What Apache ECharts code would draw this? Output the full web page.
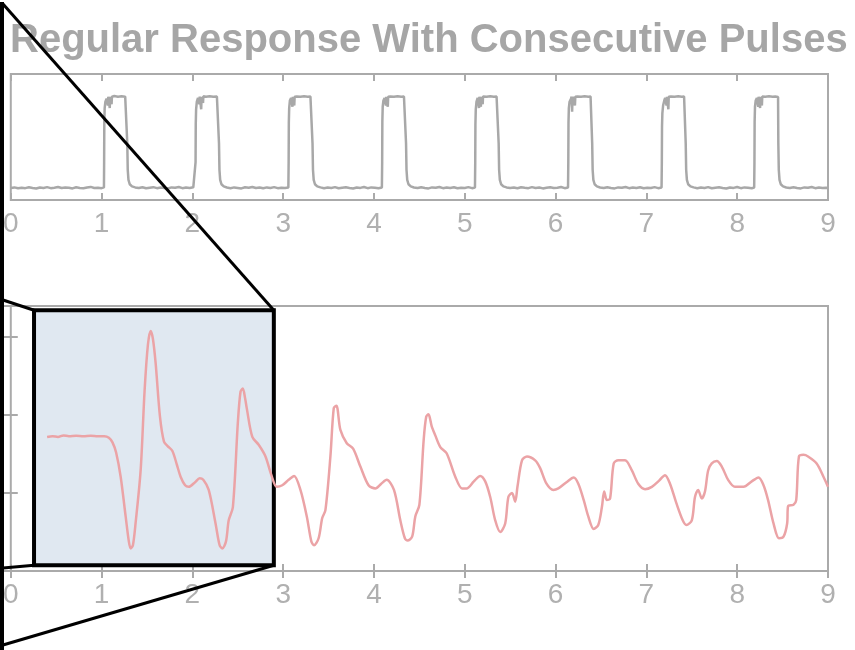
<!DOCTYPE html>
<html>
<head>
<meta charset="utf-8">
<script src="https://cdn.jsdelivr.net/npm/echarts@6/dist/echarts.min.js"></script>
<style>html,body{margin:0;padding:0;background:#fff}#c{width:855px;height:650px}</style>
</head>
<body>
<div id="c"></div>
<script>
// ---------- data ----------
const titleText = 'Regular Response With Consecutive Pulses';
const xTicks = [0, 1, 2, 3, 4, 5, 6, 7, 8, 9];

// top panel: stimulus pulse train [time, level]
const pulseTrace = [
 [0.00,0.096],[0.04,0.100],[0.08,0.093],[0.12,0.098],[0.16,0.094],[0.20,0.101],[0.24,0.095],[0.28,0.091],[0.32,0.099],[0.36,0.096],[0.40,0.102],[0.44,0.094],[0.48,0.098],[0.52,0.103],[0.56,0.095],[0.60,0.100],[0.64,0.097],[0.68,0.092],[0.72,0.101],[0.76,0.096],[0.80,0.093],[0.84,0.099],[0.88,0.104],[0.92,0.095],[0.96,0.098],[1.00,0.094],[1.026,0.100],
 [1.028,0.30],[1.030,0.62],[1.034,0.73],[1.042,0.78],[1.055,0.805],[1.065,0.82],[1.070,0.75],[1.074,0.82],[1.085,0.815],[1.090,0.73],[1.094,0.82],[1.105,0.82],[1.110,0.76],[1.114,0.82],[1.140,0.825],[1.180,0.82],[1.220,0.823],[1.260,0.82],[1.280,0.818],
 [1.283,0.45],[1.288,0.24],[1.296,0.16],[1.310,0.125],[1.335,0.108],[1.37,0.100],[1.41,0.095],[1.45,0.101],[1.49,0.093],[1.53,0.098],[1.57,0.102],[1.61,0.094],[1.65,0.099],[1.69,0.096],[1.73,0.091],[1.77,0.100],[1.81,0.097],[1.85,0.103],[1.89,0.094],[1.93,0.099],[1.97,0.095],[2.01,0.101],[2.032,0.097],
 [2.035,0.30],[2.037,0.60],[2.041,0.72],[2.049,0.78],[2.062,0.81],[2.072,0.82],[2.077,0.76],[2.081,0.82],[2.092,0.818],[2.097,0.72],[2.101,0.82],[2.112,0.82],[2.117,0.77],[2.121,0.823],[2.15,0.82],[2.19,0.824],[2.23,0.82],[2.27,0.821],[2.29,0.818],
 [2.293,0.45],[2.298,0.24],[2.306,0.16],[2.320,0.125],[2.345,0.108],[2.38,0.099],[2.42,0.094],[2.46,0.100],[2.50,0.096],[2.54,0.092],[2.58,0.101],[2.62,0.097],[2.66,0.103],[2.70,0.095],[2.74,0.099],[2.78,0.093],[2.82,0.100],[2.86,0.096],[2.90,0.102],[2.94,0.094],[2.98,0.098],[3.02,0.095],[3.057,0.100],
 [3.060,0.30],[3.062,0.61],[3.066,0.73],[3.074,0.79],[3.087,0.81],[3.097,0.82],[3.102,0.74],[3.106,0.82],[3.117,0.817],[3.122,0.75],[3.126,0.82],[3.150,0.822],[3.19,0.82],[3.23,0.823],[3.27,0.82],[3.30,0.821],[3.320,0.818],
 [3.323,0.45],[3.328,0.24],[3.336,0.16],[3.350,0.125],[3.375,0.108],[3.41,0.100],[3.45,0.094],[3.49,0.099],[3.53,0.096],[3.57,0.102],[3.61,0.093],[3.65,0.098],[3.69,0.101],[3.73,0.095],[3.77,0.091],[3.81,0.099],[3.85,0.096],[3.89,0.103],[3.93,0.094],[3.97,0.100],[4.01,0.097],[4.05,0.093],[4.087,0.099],
 [4.090,0.30],[4.092,0.62],[4.096,0.74],[4.104,0.79],[4.117,0.81],[4.127,0.82],[4.132,0.75],[4.136,0.82],[4.147,0.819],[4.152,0.74],[4.156,0.82],[4.180,0.822],[4.22,0.82],[4.26,0.824],[4.30,0.82],[4.33,0.821],[4.350,0.818],
 [4.353,0.45],[4.358,0.24],[4.366,0.16],[4.380,0.125],[4.405,0.108],[4.44,0.099],[4.48,0.095],[4.52,0.101],[4.56,0.096],[4.60,0.092],[4.64,0.100],[4.68,0.097],[4.72,0.103],[4.76,0.094],[4.80,0.099],[4.84,0.095],[4.88,0.101],[4.92,0.093],[4.96,0.098],[5.00,0.096],[5.04,0.102],[5.08,0.094],[5.112,0.099],
 [5.115,0.30],[5.117,0.60],[5.121,0.72],[5.129,0.78],[5.142,0.81],[5.152,0.82],[5.157,0.73],[5.161,0.82],[5.172,0.818],[5.177,0.74],[5.181,0.82],[5.192,0.82],[5.197,0.76],[5.201,0.822],[5.24,0.82],[5.28,0.823],[5.32,0.82],[5.35,0.821],[5.370,0.818],
 [5.373,0.45],[5.378,0.24],[5.386,0.16],[5.400,0.125],[5.425,0.108],[5.46,0.100],[5.50,0.095],[5.54,0.099],[5.58,0.093],[5.62,0.101],[5.66,0.097],[5.70,0.094],[5.74,0.102],[5.78,0.096],[5.82,0.099],[5.86,0.092],[5.90,0.098],[5.94,0.101],[5.98,0.095],[6.02,0.097],[6.06,0.103],[6.10,0.094],[6.137,0.099],
 [6.140,0.30],[6.142,0.61],[6.146,0.73],[6.154,0.78],[6.167,0.80],[6.177,0.82],[6.182,0.70],[6.186,0.80],[6.192,0.78],[6.197,0.82],[6.208,0.819],[6.213,0.75],[6.217,0.82],[6.24,0.822],[6.28,0.82],[6.32,0.823],[6.36,0.82],[6.385,0.821],[6.400,0.818],
 [6.403,0.45],[6.408,0.24],[6.416,0.16],[6.430,0.125],[6.455,0.108],[6.49,0.099],[6.53,0.095],[6.57,0.101],[6.61,0.096],[6.65,0.092],[6.69,0.100],[6.73,0.097],[6.77,0.103],[6.81,0.094],[6.85,0.099],[6.89,0.095],[6.93,0.101],[6.97,0.093],[7.01,0.098],[7.05,0.096],[7.09,0.102],[7.13,0.094],[7.167,0.099],
 [7.170,0.30],[7.172,0.58],[7.176,0.69],[7.184,0.75],[7.197,0.79],[7.207,0.81],[7.217,0.82],[7.222,0.75],[7.226,0.82],[7.237,0.819],[7.242,0.72],[7.246,0.82],[7.27,0.822],[7.31,0.82],[7.35,0.823],[7.39,0.82],[7.415,0.821],[7.430,0.818],
 [7.433,0.45],[7.438,0.24],[7.446,0.16],[7.460,0.125],[7.485,0.108],[7.52,0.100],[7.56,0.094],[7.60,0.099],[7.64,0.096],[7.68,0.102],[7.72,0.093],[7.76,0.098],[7.80,0.101],[7.84,0.095],[7.88,0.091],[7.92,0.099],[7.96,0.096],[8.00,0.103],[8.04,0.094],[8.08,0.100],[8.12,0.097],[8.16,0.093],[8.187,0.099],
 [8.190,0.30],[8.192,0.62],[8.196,0.74],[8.204,0.79],[8.217,0.81],[8.227,0.82],[8.232,0.74],[8.236,0.82],[8.247,0.818],[8.252,0.73],[8.256,0.82],[8.267,0.82],[8.272,0.75],[8.276,0.822],[8.31,0.82],[8.35,0.823],[8.39,0.82],[8.42,0.821],[8.450,0.818],
 [8.453,0.45],[8.458,0.24],[8.466,0.16],[8.480,0.125],[8.505,0.108],[8.54,0.099],[8.58,0.095],[8.62,0.101],[8.66,0.096],[8.70,0.092],[8.74,0.100],[8.78,0.097],[8.82,0.103],[8.86,0.094],[8.90,0.099],[8.94,0.095],[8.98,0.098],[9.00,0.096]
];

// bottom panel: response trace [time, value]
const responseTrace = [
 [0.40,1.72],[0.46,1.73],[0.52,1.72],[0.58,1.74],[0.64,1.73],[0.72,1.735],[0.80,1.73],[0.88,1.735],[0.96,1.73],[1.03,1.73],[1.08,1.71],[1.12,1.65],[1.16,1.52],[1.21,1.21],[1.265,0.70],[1.30,0.38],[1.32,0.29],[1.345,0.33],[1.375,0.62],[1.43,1.29],[1.474,2.32],[1.51,2.90],[1.54,3.08],[1.565,2.98],[1.595,2.67],[1.643,1.98],[1.687,1.66],[1.73,1.60],[1.78,1.54],[1.83,1.36],[1.87,1.21],[1.92,1.10],[1.96,1.08],[2.03,1.14],[2.08,1.19],[2.12,1.17],[2.18,1.04],[2.255,0.61],[2.30,0.33],[2.33,0.29],[2.37,0.38],[2.40,0.65],[2.446,0.82],[2.50,1.89],[2.53,2.30],[2.555,2.34],[2.58,2.22],[2.60,2.08],[2.66,1.72],[2.73,1.62],[2.805,1.47],[2.87,1.23],[2.93,1.08],[2.99,1.10],[3.06,1.17],[3.12,1.22],[3.19,1.04],[3.26,0.70],[3.31,0.38],[3.34,0.33],[3.39,0.42],[3.43,0.68],[3.465,0.78],[3.52,1.47],[3.557,2.09],[3.586,2.12],[3.63,1.81],[3.70,1.64],[3.77,1.57],[3.85,1.34],[3.94,1.10],[4.015,1.06],[4.08,1.12],[4.14,1.17],[4.22,1.04],[4.29,0.65],[4.34,0.42],[4.37,0.39],[4.42,0.44],[4.455,0.70],[4.50,0.85],[4.547,1.68],[4.575,1.98],[4.60,2.01],[4.635,1.86],[4.675,1.74],[4.73,1.59],[4.80,1.51],[4.895,1.21],[4.97,1.06],[5.02,1.06],[5.10,1.15],[5.17,1.22],[5.225,1.15],[5.28,0.95],[5.335,0.65],[5.39,0.50],[5.445,0.61],[5.48,0.95],[5.52,1.00],[5.555,0.89],[5.58,1.08],[5.63,1.42],[5.685,1.47],[5.775,1.42],[5.83,1.32],[5.90,1.12],[5.975,1.04],[6.03,1.06],[6.12,1.14],[6.20,1.20],[6.25,1.12],[6.31,0.91],[6.36,0.70],[6.42,0.54],[6.47,0.59],[6.51,0.82],[6.535,1.02],[6.565,0.91],[6.60,0.93],[6.64,1.38],[6.69,1.42],[6.765,1.42],[6.84,1.29],[6.91,1.12],[6.985,1.05],[7.06,1.08],[7.14,1.16],[7.205,1.23],[7.26,1.12],[7.33,0.87],[7.40,0.65],[7.44,0.59],[7.50,0.65],[7.535,0.95],[7.57,1.04],[7.61,0.93],[7.645,1.02],[7.68,1.29],[7.72,1.38],[7.775,1.41],[7.83,1.34],[7.90,1.17],[7.975,1.08],[8.07,1.08],[8.16,1.15],[8.235,1.20],[8.29,1.10],[8.34,0.91],[8.40,0.61],[8.46,0.42],[8.51,0.44],[8.55,0.61],[8.56,0.83],[8.62,0.85],[8.65,0.91],[8.68,1.47],[8.73,1.49],[8.78,1.47],[8.875,1.38],[8.95,1.21],[9.00,1.08]
];

// zoomed window on the bottom panel (data coordinates)
const zoomX = [0.256, 2.897];
const zoomY = [0.073, 3.346];

// ---------- chart ----------
const grey = '#aaaaaa';
const labelStyle = {color: '#b0b0b0', fontSize: 28, fontFamily: 'Liberation Sans, Arial, sans-serif', fontWeight: 'normal', margin: 10};
function xAx(grid, pos, labels) {
  return {type: 'value', gridIndex: grid, position: pos, min: 0, max: 9, interval: 1,
    axisLine: {show: false}, splitLine: {show: false},
    axisTick: {show: true, inside: true, length: 7, lineStyle: {color: grey, width: 2}},
    axisLabel: labels ? Object.assign({show: true}, labelStyle) : {show: false}};
}
function yAx(grid, pos, ticks, min, max) {
  return {type: 'value', gridIndex: grid, position: pos, min: min, max: max, interval: 1,
    axisLine: {show: false}, splitLine: {show: false},
    axisTick: {show: ticks, inside: true, length: 7, lineStyle: {color: grey, width: 2}},
    axisLabel: {show: false}};
}

const chart = echarts.init(document.getElementById('c'), null, {renderer: 'canvas'});
chart.setOption({
  animation: false,
  backgroundColor: '#ffffff',
  title: {text: titleText, left: 5, top: 16,
    textStyle: {fontSize: 40, fontWeight: 'bold', color: '#a6a6a6', fontFamily: 'Liberation Sans, Arial, sans-serif'}},
  grid: [
    {left: 10, right: 27, top: 74, height: 126, show: true, borderColor: grey, borderWidth: 2},
    {left: 10, right: 27, top: 306, height: 265, show: true, borderColor: grey, borderWidth: 2}
  ],
  xAxis: [xAx(0, 'bottom', true), xAx(0, 'top', false), xAx(1, 'bottom', true), xAx(1, 'top', false)],
  yAxis: [yAx(0, 'left', false, 0, 1), yAx(1, 'left', true, 0, 3.4), yAx(1, 'right', true, 0, 3.4)],
  series: [
    {type: 'line', xAxisIndex: 0, yAxisIndex: 0, data: pulseTrace, showSymbol: false,
      lineStyle: {color: '#a8a8a8', width: 2.5}},
    {type: 'line', xAxisIndex: 2, yAxisIndex: 1, data: responseTrace, showSymbol: false, smooth: 0.3,
      lineStyle: {color: '#eba3a6', width: 2.5},
      markArea: {silent: true,
        itemStyle: {color: '#e0e8f1', borderColor: '#000000', borderWidth: 4},
        data: [[{coord: [zoomX[0], zoomY[1]]}, {coord: [zoomX[1], zoomY[0]]}]]}}
  ]
});

// zoom connector lines
const tl = chart.convertToPixel({seriesIndex: 1}, [zoomX[0], zoomY[1]]);
const tr = chart.convertToPixel({seriesIndex: 1}, [zoomX[1], zoomY[1]]);
const bl = chart.convertToPixel({seriesIndex: 1}, [zoomX[0], zoomY[0]]);
const br = chart.convertToPixel({seriesIndex: 1}, [zoomX[1], zoomY[0]]);
const ls = {stroke: '#000', lineWidth: 3};
function seg(x1, y1, x2, y2) { return {type: 'line', z: 100, shape: {x1, y1, x2, y2}, style: ls}; }
chart.setOption({graphic: [
  {type: 'line', z: 100, shape: {x1: 2, y1: 2, x2: 2, y2: 650}, style: {stroke: '#000', lineWidth: 4}},
  seg(3, 4, tr[0], tr[1]),
  seg(3, 300, tl[0], tl[1]),
  seg(3, 568, bl[0], bl[1]),
  seg(3, 645, br[0], br[1])
]});
</script>
</body>
</html>
